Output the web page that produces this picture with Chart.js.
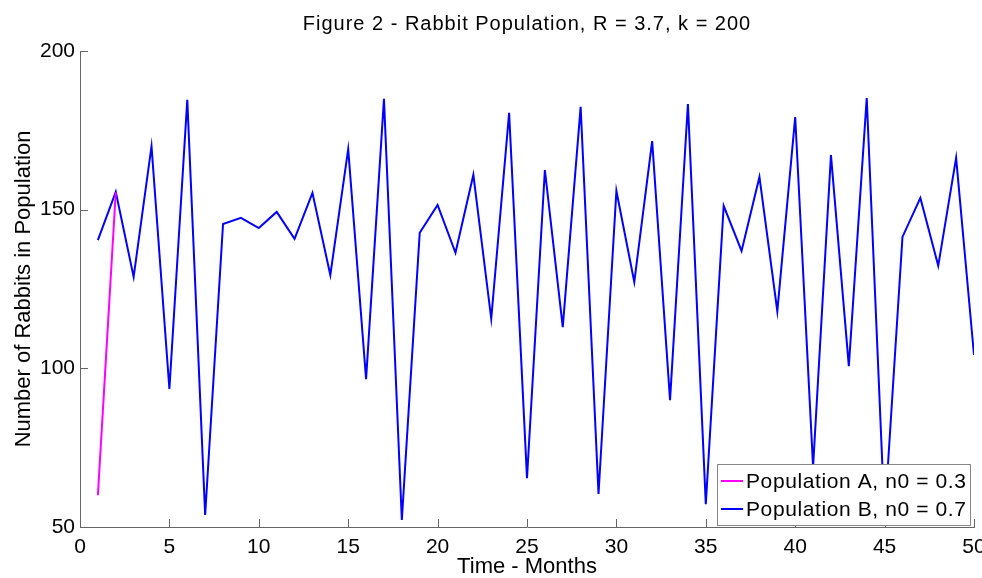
<!DOCTYPE html>
<html>
<head>
<meta charset="utf-8">
<script src="https://cdn.jsdelivr.net/npm/chart.js@4"></script>
<style>
  html, body { margin: 0; padding: 0; background: #fff; }
  #wrap { width: 982px; height: 578px; }
</style>
</head>
<body>
<div id="wrap"><canvas id="myChart"></canvas></div>
<script>
// Rabbit population chart
var monthsA = [1, 2];
var popA = [60, 155.5];

var monthsB = [1, 2, 3, 4, 5, 6, 7, 8, 9, 10,
  11, 12, 13, 14, 15, 16, 17, 18, 19, 20,
  21, 22, 23, 24, 25, 26, 27, 28, 29, 30,
  31, 32, 33, 34, 35, 36, 37, 38, 39, 40,
  41, 42, 43, 44, 45, 46, 47, 48, 49, 50];
var popB = [140.4, 155.6, 128.8, 170, 93.5, 184.6, 53.8, 145.5, 147.4, 144.2,
  149.3, 140.8, 155.3, 129.4, 169.1, 96.6, 184.9, 52.2, 142.7, 151.5,
  136.4, 161, 115.6, 180.5, 65.4, 162.5, 113, 182.4, 60.4, 155.9,
  127.2, 171.6, 90, 183.3, 57.2, 151.2, 137, 160.3, 118, 179.2,
  69, 167.2, 100.7, 185.2, 53, 141.4, 153.7, 132.3, 166.3, 104.2];

var xTicks = [0, 5, 10, 15, 20, 25, 30, 35, 40, 45, 50];
var yTicks = [50, 100, 150, 200];

var titleText = 'Figure 2 - Rabbit Population, R = 3.7, k = 200';

function pairs(xs, ys) {
  return xs.map(function(x, i) { return {x: x, y: ys[i]}; });
}

var FONT = "'Liberation Sans', Arial, sans-serif";

// title over the plot, inward ticks, legend box lower right (matlab look)
var matlabBits = {
  id: 'matlabBits',
  afterDraw: function(chart) {
    var c = chart.ctx, a = chart.chartArea;
    var xs = chart.scales.x, ys = chart.scales.y;
    c.save();

    c.fillStyle = '#000';
    c.font = '20px ' + FONT;
    c.letterSpacing = '1px';
    c.textAlign = 'center';
    c.textBaseline = 'alphabetic';
    c.fillText(titleText, (a.left + a.right) / 2, 29.5);
    c.letterSpacing = '0px';
    c.textAlign = 'left';

    c.strokeStyle = '#666';
    c.lineWidth = 1;
    c.beginPath();
    xTicks.forEach(function(t) {
      var px = Math.round(xs.getPixelForValue(t)) + 0.5;
      c.moveTo(px, a.bottom);
      c.lineTo(px, a.bottom - 8);
    });
    yTicks.forEach(function(t) {
      var py = Math.round(ys.getPixelForValue(t)) + 0.5;
      c.moveTo(a.left, py);
      c.lineTo(a.left + 8, py);
    });
    c.stroke();

    // legend
    var w = 253, h = 61;
    var bx = Math.round(a.right) - w - 4, by = Math.round(a.bottom) - h - 2;
    c.fillStyle = '#fff';
    c.fillRect(bx, by, w, h);
    c.strokeStyle = '#888';
    c.strokeRect(bx + 0.5, by + 0.5, w, h);
    c.font = '21px ' + FONT;
    c.letterSpacing = '0.6px';
    c.textBaseline = 'middle';
    chart.data.datasets.forEach(function(ds, i) {
      var ly = by + 17 + i * 28;
      c.strokeStyle = ds.borderColor;
      c.lineWidth = 2;
      c.beginPath();
      c.moveTo(bx + 4, ly);
      c.lineTo(bx + 26, ly);
      c.stroke();
      c.fillStyle = '#000';
      c.fillText(ds.label, bx + 29, ly + 1);
    });
    c.restore();
  }
};

var ctx = document.getElementById('myChart').getContext('2d');
var chart = new Chart(ctx, {
  type: 'line',
  data: {
    datasets: [{
      label: 'Population A, n0 = 0.3',
      data: pairs(monthsA, popA),
      borderColor: '#ff00ff',
      borderWidth: 2,
      pointRadius: 0,
      tension: 0
    }, {
      label: 'Population B, n0 = 0.7',
      data: pairs(monthsB, popB),
      borderColor: '#0000ff',
      borderWidth: 2,
      pointRadius: 0,
      tension: 0
    }]
  },
  options: {
    responsive: true,
    maintainAspectRatio: false,
    animation: false,
    layout: { padding: { top: 51 } },
    plugins: {
      legend: { display: false },
      tooltip: { enabled: false },
      title: { display: false }
    },
    scales: {
      x: {
        type: 'linear',
        min: 0, max: 50,
        grid: { display: false, drawTicks: false },
        border: { display: true, color: '#666', width: 1 },
        ticks: {
          stepSize: 5, color: '#000', padding: 8, maxRotation: 0,
          font: { family: FONT, size: 21 }
        },
        title: {
          display: true, text: 'Time - Months', color: '#000',
          font: { family: FONT, size: 22, lineHeight: 1 }, padding: 0
        },
        afterFit: function(s) { s.height = 51; s.paddingRight = 8; }
      },
      y: {
        min: 50, max: 200,
        grid: { display: false, drawTicks: false },
        border: { display: true, color: '#666', width: 1 },
        ticks: {
          stepSize: 50, color: '#000', padding: 5,
          font: { family: FONT, size: 21 }
        },
        title: {
          display: true, text: 'Number of Rabbits in Population', color: '#000',
          font: { family: FONT, size: 22, lineHeight: 1 }, padding: { top: 13, bottom: 0 }
        },
        afterFit: function(s) { s.width = 80; }
      }
    }
  },
  plugins: [matlabBits]
});
</script>
</body>
</html>
